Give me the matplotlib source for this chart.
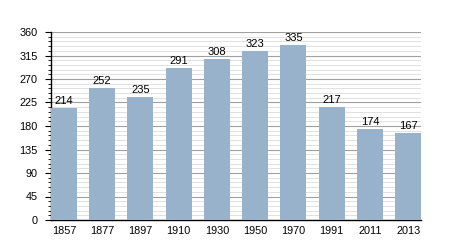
import numpy as np
import matplotlib.pyplot as plt
from matplotlib.ticker import MultipleLocator

plt.rcParams['font.family'] = ['Liberation Sans', 'DejaVu Sans']

# Population by census year
years = ['1857', '1877', '1897', '1910', '1930', '1950', '1970', '1991', '2011', '2013']
population = [214, 252, 235, 291, 308, 323, 335, 217, 174, 167]

fig = plt.figure(figsize=(4.5, 2.5), dpi=100)
ax = fig.add_axes([0.113, 0.12, 0.823, 0.752])

x = np.arange(len(years))
w = 0.68
ax.bar(x, population, width=w, color='#98b2cc', zorder=3)
for xi, v in zip(x, population):
    ax.text(xi, v + 4, str(v), ha='center', va='bottom', fontsize=8, zorder=4)

ax.set_xlim(-w / 2, len(years) - 1 + w / 2)
ax.set_ylim(0, 360)
ax.yaxis.set_major_locator(MultipleLocator(45))
ax.yaxis.set_minor_locator(MultipleLocator(9))
ax.grid(which='major', axis='y', color='#a0a0a0', linewidth=0.8, zorder=0)
ax.grid(which='minor', axis='y', color='#dcdcdc', linewidth=0.6, zorder=0)

ax.set_xticks(x)
ax.set_xticklabels(years)
ax.tick_params(axis='x', length=0, labelsize=7.8, pad=4)
ax.tick_params(axis='y', which='major', length=4, labelsize=7.8, pad=5.5)
ax.tick_params(axis='y', which='minor', length=2)

for s in ['top', 'right']:
    ax.spines[s].set_visible(False)
ax.spines['left'].set_linewidth(1.0)
ax.spines['bottom'].set_linewidth(1.0)

plt.savefig('out.png')
